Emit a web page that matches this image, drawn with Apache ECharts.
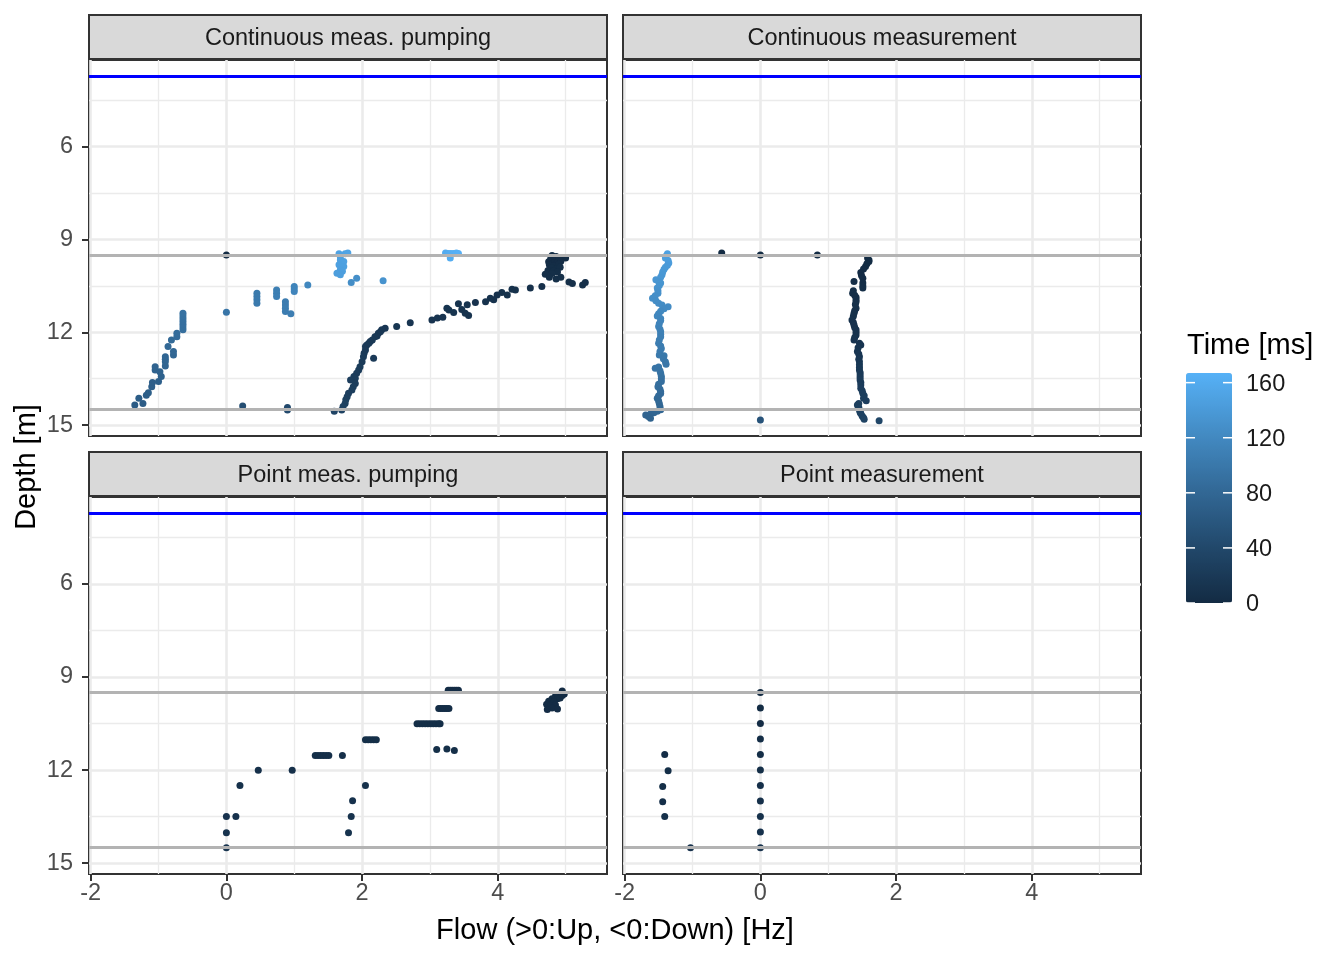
<!DOCTYPE html>
<html><head><meta charset="utf-8">
<script src="https://cdn.jsdelivr.net/npm/echarts@6/dist/echarts.min.js"></script>
<style>html,body{margin:0;padding:0;background:#fff}#c{width:1344px;height:960px}</style>
</head><body><div id="c"></div>
<script>
// ---------- data ----------
const panelTitles = ['Continuous meas. pumping', 'Continuous measurement', 'Point meas. pumping', 'Point measurement'];
const xTicks = [-2, 0, 2, 4];
const xMinorTicks = [-1, 1, 3, 5];
const yTicks = [6, 9, 12, 15];
const yMinorTicks = [4.5, 7.5, 10.5, 13.5];
const waterLevel = [3.72];
const layerDepths = [9.5, 14.5];
const timeTicks = [0, 40, 80, 120, 160];

// [flow, depth, time]
const cmpPoints = [
  [0.00,9.50,0],
  [4.80,9.52,1],[4.86,9.55,1],[4.95,9.58,1],[5.00,9.60,1],[4.78,9.62,1],[4.84,9.66,2],[4.90,9.63,2],[4.75,9.72,2],[4.82,9.75,2],[4.88,9.72,2],[4.93,9.70,2],[4.76,9.82,3],[4.83,9.85,3],[4.90,9.80,3],[4.79,9.92,4],[4.86,9.95,4],[4.92,9.90,4],[4.74,10.00,4],[4.82,10.02,4],[4.88,10.05,4],[4.80,10.10,5],[4.70,10.12,5],[4.76,10.22,5],[4.86,10.28,5],[4.93,10.22,5],
  [5.05,10.37,5],[5.10,10.42,6],[5.25,10.47,6],[5.29,10.39,6],
  [4.65,10.52,7],[4.48,10.57,7],[4.26,10.63,8],[4.21,10.61,8],[4.14,10.79,8],[4.06,10.71,8],[3.99,10.79,9],[3.94,10.95,9],[3.89,10.90,10],[3.82,11.01,10],[3.67,11.04,10],[3.55,11.11,11],[3.57,11.46,11],[3.52,11.38,11],[3.47,11.26,11],[3.42,11.08,11],[3.35,11.36,12],[3.28,11.28,12],[3.25,11.22,12],[3.19,11.51,13],[3.11,11.54,13],[3.03,11.60,13],[2.71,11.69,14],[2.51,11.81,15],[2.34,11.87,16],[2.29,11.92,17],[2.27,11.98,17],[2.24,12.03,17],[2.22,12.12,17],[2.19,12.14,18],[2.15,12.25,19],[2.12,12.30,19],[2.10,12.35,19],[2.07,12.41,19],[2.05,12.46,20],[2.05,12.57,20],[2.03,12.68,21],[2.02,12.79,22],[2.17,12.84,21],[2.00,12.95,22],[1.97,13.11,23],[1.95,13.22,23],[1.92,13.32,24],[1.88,13.43,25],[1.90,13.48,25],[1.83,13.54,25],[1.90,13.65,25],[1.87,13.76,26],[1.85,13.86,26],[1.80,13.97,27],[1.78,14.08,28],[1.76,14.18,29],[1.75,14.30,30],[1.72,14.40,31],[1.70,14.51,33],[1.59,14.55,35],
  [0.90,14.43,42],[0.90,14.51,43],[0.24,14.38,48],
  [-1.35,14.35,65],[-1.29,14.13,67],[-1.23,14.30,66],[-1.18,14.03,68],[-1.15,13.95,69],[-1.10,13.76,70],[-1.09,13.62,70],[-1.00,13.59,71],[-0.96,13.43,72],[-0.98,13.27,73],[-1.05,13.22,74],[-1.05,13.11,75],[-0.90,13.09,76],[-0.90,12.95,77],[-0.90,12.87,78],[-0.90,12.79,79],[-0.78,12.73,79],[-0.78,12.62,80],[-0.86,12.46,81],[-0.81,12.25,83],[-0.73,12.14,85],[-0.73,12.03,86],[-0.64,11.92,88],[-0.64,11.83,89],[-0.64,11.74,90],[-0.64,11.65,90],[-0.64,11.56,91],[-0.64,11.47,92],[-0.64,11.38,93],
  [0.00,11.35,97],
  [0.45,10.74,102],[0.45,10.84,102],[0.45,10.95,103],[0.45,11.06,103],
  [0.74,10.63,108],[0.74,10.74,108],[0.74,10.84,109],
  [0.87,11.01,105],[0.87,11.12,105],[0.87,11.22,106],[0.87,11.33,106],[0.95,11.40,107],
  [1.00,10.52,114],[1.00,10.60,114],[1.00,10.68,115],
  [1.20,10.47,118],
  [1.66,9.46,150],[1.75,9.46,151],[1.79,9.44,152],[1.68,9.56,149],[1.68,9.66,148],[1.73,9.71,148],[1.66,9.82,147],[1.73,9.87,147],[1.68,9.98,146],[1.71,10.03,146],[1.63,10.09,145],[1.68,10.14,145],
  [1.84,10.39,125],[1.92,10.25,128],[2.31,10.33,132],
  [3.23,9.44,160],[3.27,9.45,161],[3.31,9.45,162],[3.35,9.45,164],[3.39,9.44,165],[3.42,9.45,166],[3.30,9.60,161]
];

const cmPoints = [
  [-1.37,9.46,148],[-1.39,9.53,147],[-1.40,9.60,146],[-1.36,9.68,145],[-1.35,9.76,144],[-1.37,9.83,142],[-1.40,9.90,141],[-1.42,9.96,140],[-1.44,10.05,139],[-1.45,10.14,138],[-1.47,10.22,137],[-1.54,10.30,136],[-1.50,10.36,135],[-1.47,10.41,134],[-1.49,10.49,133],[-1.52,10.57,132],[-1.51,10.66,130],[-1.51,10.74,129],[-1.55,10.82,128],[-1.59,10.90,127],[-1.54,10.98,126],[-1.50,11.06,125],[-1.45,11.12,124],[-1.36,11.17,123],[-1.42,11.24,122],[-1.47,11.32,120],[-1.50,11.40,119],[-1.52,11.47,118],[-1.47,11.55,117],[-1.47,11.62,116],[-1.49,11.72,115],[-1.50,11.81,114],[-1.48,11.90,113],[-1.47,11.98,111],[-1.47,12.06,110],[-1.47,12.14,109],[-1.49,12.25,108],[-1.50,12.35,107],[-1.47,12.44,106],[-1.46,12.52,105],[-1.48,12.62,104],[-1.49,12.73,102],[-1.42,12.76,101],[-1.43,12.85,100],[-1.40,12.95,99],[-1.39,13.03,98],[-1.50,13.12,97],[-1.55,13.16,96],[-1.48,13.24,95],[-1.47,13.32,94],[-1.46,13.42,93],[-1.46,13.50,92],[-1.46,13.59,90],[-1.50,13.68,89],[-1.51,13.76,88],[-1.48,13.84,87],[-1.47,13.92,86],[-1.47,13.98,85],[-1.50,14.05,84],[-1.52,14.13,83],[-1.50,14.22,82],[-1.49,14.30,81],[-1.48,14.40,80],[-1.47,14.50,79],[-1.52,14.55,78],[-1.57,14.60,77],[-1.62,14.64,76],[-1.69,14.67,75],[-1.65,14.72,74],[-1.62,14.78,73],
  [1.58,9.60,0],[1.60,9.66,1],[1.60,9.71,1],[1.57,9.78,1],[1.55,9.87,1],[1.52,9.95,2],[1.48,10.07,2],[1.49,10.16,2],[1.51,10.25,2],[1.38,10.36,3],[1.51,10.41,3],[1.51,10.50,4],[1.51,10.57,4],[1.37,10.66,4],[1.36,10.74,5],[1.39,10.80,5],[1.41,10.87,5],[1.41,10.95,6],[1.41,11.01,6],[1.40,11.10,7],[1.41,11.22,7],[1.39,11.30,7],[1.38,11.38,8],[1.37,11.48,8],[1.35,11.60,9],[1.37,11.68,9],[1.38,11.76,10],[1.39,11.84,10],[1.41,11.92,11],[1.41,12.00,11],[1.41,12.09,11],[1.39,12.17,12],[1.38,12.25,13],[1.46,12.35,13],[1.48,12.41,13],[1.44,12.50,14],[1.43,12.62,15],[1.45,12.70,16],[1.46,12.79,16],[1.45,12.87,17],[1.46,12.95,17],[1.46,13.05,18],[1.46,13.14,19],[1.46,13.22,19],[1.47,13.30,20],[1.47,13.38,20],[1.47,13.46,21],[1.47,13.54,22],[1.48,13.62,22],[1.48,13.70,23],[1.48,13.81,24],[1.50,13.89,25],[1.51,13.97,25],[1.53,14.05,26],[1.52,14.13,26],[1.56,14.21,27],[1.45,14.30,28],[1.43,14.35,28],[1.45,14.43,29],[1.46,14.51,30],[1.47,14.58,31],[1.48,14.62,31],[1.50,14.70,32],[1.52,14.76,32],[1.53,14.81,33],[1.75,14.86,37],
  [-0.57,9.44,0],[0.00,9.50,0],[0.84,9.50,0],[0.00,14.83,55]
];

const pmpPoints = [
  [3.27,9.43,2],[3.30,9.43,2],[3.33,9.43,2],[3.36,9.43,2],[3.39,9.43,2],[3.42,9.43,2],
  [3.13,10.02,3],[3.16,10.02,3],[3.19,10.02,3],[3.22,10.02,3],[3.25,10.02,3],[3.28,10.02,3],
  [2.81,10.51,4],[2.85,10.51,4],[2.89,10.51,4],[2.93,10.51,4],[2.97,10.51,4],[3.01,10.51,4],[3.05,10.51,4],[3.09,10.51,4],[3.13,10.51,4],[3.15,10.51,4],
  [2.05,11.02,5],[2.09,11.02,5],[2.13,11.02,5],[2.17,11.02,5],[2.21,11.02,5],
  [1.31,11.53,6],[1.35,11.53,6],[1.39,11.53,6],[1.43,11.53,6],[1.47,11.53,6],[1.51,11.53,6],[1.71,11.53,6],
  [3.10,11.34,5],[3.25,11.32,5],[3.36,11.37,5],
  [0.47,12.01,7],[0.97,12.01,7],
  [0.20,12.50,8],[2.05,12.50,8],
  [1.86,12.99,9],
  [0.00,13.50,10],[0.14,13.50,10],[1.84,13.50,10],
  [0.00,14.02,11],[1.80,14.02,11],
  [0.00,14.50,12],
  [4.95,9.45,0],[4.98,9.55,0],[4.90,9.58,0],[4.85,9.62,1],[4.80,9.70,1],[4.88,9.70,1],[4.75,9.78,1],[4.83,9.80,1],[4.92,9.68,1],[4.72,9.88,2],[4.78,9.92,2],[4.85,9.90,2],[4.80,10.00,2],[4.73,10.05,2],[4.88,10.03,2],[4.95,9.60,0]
];

const pmPoints = [
  [0.00,9.50,0],[0.00,10.00,1],[0.00,10.50,2],[0.00,11.00,3],[0.00,11.50,4],[0.00,12.00,5],[0.00,12.50,6],[0.00,13.00,7],[0.00,13.50,8],[0.00,14.00,9],[0.00,14.50,10],
  [-1.41,11.50,3],[-1.36,12.02,4],[-1.44,12.53,5],[-1.44,13.02,6],[-1.41,13.50,7],
  [-1.03,14.50,10]
];

// ---------- layout ----------
const FONT = 'Liberation Sans, Arial, sans-serif';
const xRange = [-2.025, 5.61];
const yRange = [3.2, 15.35];
const grids = [
  {left: 89, top: 60, width: 518, height: 376},
  {left: 623, top: 60, width: 518, height: 376},
  {left: 89, top: 497, width: 518, height: 377},
  {left: 623, top: 497, width: 518, height: 377}
];
const panels = [cmpPoints, cmPoints, pmpPoints, pmPoints];
const timeMax = 167;
const cb = {left: 1186, top: 373, width: 46, height: 230};
// ggplot2 default gradient (#132B43 -> #56B1F7) sampled in Lab space
const gradient = ['#132B43', '#22496C', '#336A98', '#448DC6', '#56B1F7'];

const gridOpt = grids.map(g => Object.assign({show: true, borderColor: '#333333', borderWidth: 2, backgroundColor: '#ffffff', containLabel: false}, g));

const xAxes = grids.map((g, i) => ({
  gridIndex: i, type: 'value', min: xRange[0], max: xRange[1],
  axisLine: {show: false, onZero: false}, splitLine: {show: false},
  axisTick: {show: i >= 2, customValues: xTicks, length: 7, lineStyle: {color: '#333333', width: 2}},
  axisLabel: {show: i >= 2, customValues: xTicks, color: '#4D4D4D', fontSize: 23.5, fontFamily: FONT, margin: 8}
}));
const yAxes = grids.map((g, i) => ({
  gridIndex: i, type: 'value', inverse: true, min: yRange[0], max: yRange[1],
  axisLine: {show: false, onZero: false}, splitLine: {show: false},
  axisTick: {show: i % 2 === 0, customValues: yTicks, length: 7, lineStyle: {color: '#333333', width: 2}},
  axisLabel: {show: i % 2 === 0, customValues: yTicks, color: '#4D4D4D', fontSize: 23.5, fontFamily: FONT, margin: 16}
}));

const series = [];
const pointSeriesIdx = [];
panels.forEach((pts, i) => {
  const grid = [];
  xMinorTicks.forEach(v => grid.push({xAxis: v, lineStyle: {color: '#EBEBEB', width: 1.3, type: 'solid'}}));
  yMinorTicks.forEach(v => grid.push({yAxis: v, lineStyle: {color: '#EBEBEB', width: 1.3, type: 'solid'}}));
  xTicks.forEach(v => grid.push({xAxis: v, lineStyle: {color: '#EBEBEB', width: 2.6, type: 'solid'}}));
  yTicks.forEach(v => grid.push({yAxis: v, lineStyle: {color: '#EBEBEB', width: 2.6, type: 'solid'}}));
  series.push({
    type: 'scatter', xAxisIndex: i, yAxisIndex: i, data: [], silent: true, z: 1,
    markLine: {silent: true, z: 1, symbol: ['none', 'none'], label: {show: false}, animation: false, data: grid}
  });
  pointSeriesIdx.push(series.length);
  series.push({
    type: 'scatter', name: panelTitles[i], xAxisIndex: i, yAxisIndex: i, data: pts,
    symbol: 'circle', symbolSize: 7, z: 3, silent: true, itemStyle: {opacity: 1}
  });
  const lines = [];
  waterLevel.forEach(v => lines.push({yAxis: v, lineStyle: {color: '#0000FF', width: 2.8, type: 'solid', opacity: 1}}));
  layerDepths.forEach(v => lines.push({yAxis: v, lineStyle: {color: '#B3B3B3', width: 2.8, type: 'solid', opacity: 1}}));
  series.push({
    type: 'scatter', xAxisIndex: i, yAxisIndex: i, data: [], silent: true, z: 5,
    markLine: {silent: true, z: 5, symbol: ['none', 'none'], label: {show: false}, animation: false, data: lines}
  });
});

// graphics: strips, axis titles, colourbar ticks/labels
const graphics = [];
grids.forEach((g, i) => {
  const sy = g.top - 45;
  graphics.push({type: 'rect', shape: {x: g.left, y: sy, width: g.width, height: 44}, style: {fill: '#D9D9D9', stroke: '#333333', lineWidth: 2}, z: 10});
  graphics.push({type: 'text', x: g.left + g.width / 2, y: sy + 24, style: {text: panelTitles[i], fill: '#1A1A1A', font: '23.5px ' + FONT, textAlign: 'center', textVerticalAlign: 'middle'}, z: 11});
});
graphics.push({type: 'text', x: 615, y: 931, style: {text: 'Flow (>0:Up, <0:Down) [Hz]', fill: '#000000', font: '29px ' + FONT, textAlign: 'center', textVerticalAlign: 'middle'}});
graphics.push({type: 'text', x: 27, y: 467, rotation: Math.PI / 2, style: {text: 'Depth [m]', fill: '#000000', font: '29px ' + FONT, textAlign: 'center', textVerticalAlign: 'middle'}});
graphics.push({type: 'text', x: 1187, y: 346, style: {text: 'Time [ms]', fill: '#000000', font: '29px ' + FONT, textAlign: 'left', textVerticalAlign: 'middle'}});
timeTicks.forEach(v => {
  const y = cb.top + cb.height - v / timeMax * cb.height;
  graphics.push({type: 'line', shape: {x1: cb.left, y1: y, x2: cb.left + 9, y2: y}, style: {stroke: '#FFFFFF', lineWidth: 1.5}, z: 20});
  graphics.push({type: 'line', shape: {x1: cb.left + cb.width - 9, y1: y, x2: cb.left + cb.width, y2: y}, style: {stroke: '#FFFFFF', lineWidth: 1.5}, z: 20});
  graphics.push({type: 'text', x: 1246, y: y + 2, style: {text: String(v), fill: '#1A1A1A', font: '23.5px ' + FONT, textAlign: 'left', textVerticalAlign: 'middle'}, z: 20});
});

const chart = echarts.init(document.getElementById('c'), null, {renderer: 'canvas'});
chart.setOption({
  animation: false,
  backgroundColor: '#ffffff',
  grid: gridOpt,
  xAxis: xAxes,
  yAxis: yAxes,
  visualMap: {
    type: 'continuous', seriesIndex: pointSeriesIdx, dimension: 2, min: 0, max: timeMax,
    inRange: {color: gradient},
    left: cb.left, top: cb.top, itemWidth: cb.width, itemHeight: cb.height,
    calculable: false, text: null, showLabel: false, padding: 0, hoverLink: false, realtime: false
  },
  series: series,
  graphic: graphics
});
</script>
</body></html>
